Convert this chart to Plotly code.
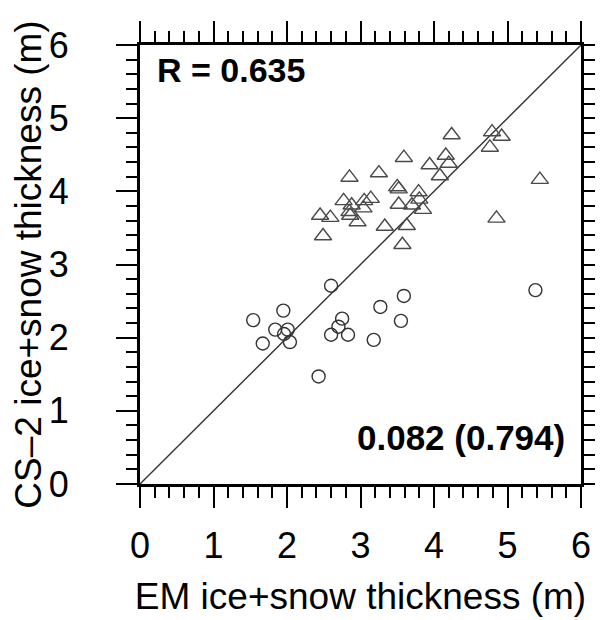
import plotly.graph_objects as go

# triangles (upper group) - EM vs CS-2 thickness
tri_em = [2.45, 2.59, 2.49, 2.77, 2.88, 2.85, 2.86, 2.96, 3.05, 3.14, 3.04, 2.85,
          3.25, 3.33, 3.59, 3.50, 3.52, 3.52, 3.57, 3.63, 3.70, 3.79, 3.80, 3.85,
          3.94, 4.08, 4.16, 4.20, 4.24, 4.76, 4.79, 4.92, 4.85, 5.44]
tri_cs2 = [3.67, 3.64, 3.39, 3.87, 3.81, 3.72, 3.67, 3.58, 3.87, 3.90, 3.77, 4.19,
           4.25, 3.52, 4.46, 4.06, 4.03, 3.82, 3.27, 3.53, 3.81, 3.99, 3.89, 3.75,
           4.36, 4.21, 4.49, 4.38, 4.77, 4.60, 4.81, 4.75, 3.63, 4.16]

# circles (lower group)
circ_em = [2.60, 3.59, 5.38, 3.27, 1.95, 1.54, 3.55, 2.75, 1.84, 2.01, 2.70, 1.96,
           2.60, 2.83, 1.67, 2.04, 3.18, 2.43]
circ_cs2 = [2.71, 2.57, 2.65, 2.42, 2.37, 2.24, 2.23, 2.26, 2.11, 2.11, 2.15, 2.05,
            2.04, 2.04, 1.92, 1.94, 1.97, 1.47]

one_to_one = [0, 6]
r_text = "R = 0.635"
stats_text = "0.082 (0.794)"

FONT = "Liberation Sans, Arial, sans-serif"

fig = go.Figure()

# 1:1 line
fig.add_trace(go.Scatter(x=one_to_one, y=one_to_one, mode="lines",
                         line=dict(color="#333333", width=1.4), hoverinfo="skip"))

fig.add_trace(go.Scatter(x=tri_em, y=tri_cs2, mode="markers",
                         marker=dict(symbol="triangle-up-open", size=15,
                                     color="#4a4a4a", line=dict(width=1.4, color="#4a4a4a"))))
fig.add_trace(go.Scatter(x=circ_em, y=circ_cs2, mode="markers",
                         marker=dict(symbol="circle-open", size=13,
                                     color="#333333", line=dict(width=1.4, color="#333333"))))

axis_common = dict(
    range=[0, 6], dtick=1, tick0=0, automargin=False,
    showgrid=False, zeroline=False,
    showline=True, linecolor="black", linewidth=3, mirror="ticks",
    ticks="outside", ticklen=21, tickwidth=2, tickcolor="black",
    minor=dict(dtick=0.2, ticks="outside", ticklen=11, tickwidth=1.5, tickcolor="black"),
    tickfont=dict(family=FONT, size=36, color="black"),
)

# page body adds an 8px offset, margins compensate for it
fig.update_layout(
    width=603, height=620,
    margin=dict(l=132, r=30, t=37, b=144),
    plot_bgcolor="white", paper_bgcolor="white",
    showlegend=False,
    xaxis=dict(axis_common, ticklabelstandoff=7,
               title=dict(text="EM ice+snow thickness (m)", standoff=18,
                          font=dict(family=FONT, size=37, color="black"))),
    yaxis=dict(axis_common, ticklabelstandoff=40,
               title=dict(text="CS\u20132 ice+snow thickness (m)", standoff=0,
                          font=dict(family=FONT, size=37, color="black"))),
    annotations=[
        dict(text="<b>" + r_text + "</b>", x=0.035, y=0.942, xref="paper", yref="paper",
             xanchor="left", yanchor="middle", showarrow=False,
             font=dict(family=FONT, size=34, color="black")),
        dict(text="<b>" + stats_text + "</b>", x=0.968, y=0.107, xref="paper", yref="paper",
             xanchor="right", yanchor="middle", showarrow=False,
             font=dict(family=FONT, size=35, color="black")),
    ],
)

fig.write_html("out.html")
